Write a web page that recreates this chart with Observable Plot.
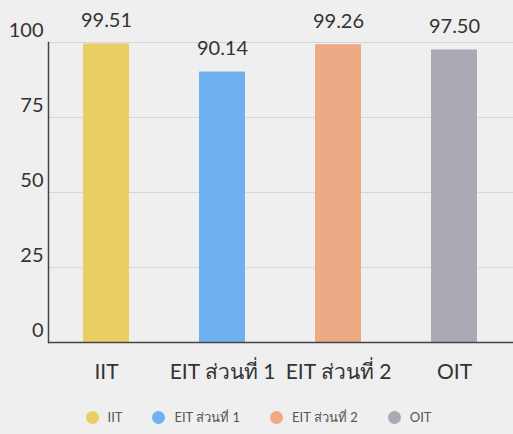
<!DOCTYPE html>
<html>
<head>
<meta charset="utf-8">
<script src="https://cdn.jsdelivr.net/npm/d3@7"></script>
<script src="https://cdn.jsdelivr.net/npm/@observablehq/plot@0.6"></script>
<style>
  html, body { margin: 0; padding: 0; background: #efefef; }
  body { width: 513px; height: 434px; overflow: hidden; font-family: Lato, "Noto Sans", sans-serif; color: #333; }
  #legend { display: flex; justify-content: center; align-items: center; height: 34px; font-size: 13px; color: #555; padding-left: 4px; }
  .item { display: flex; align-items: center; margin: 0 15px; }
  .dot { width: 13px; height: 13px; border-radius: 50%; margin-right: 9px; }
</style>
</head>
<body>
<div id="chart"></div>
<div id="legend"></div>
<script>
const categories = ["IIT", "EIT ส่วนที่ 1", "EIT ส่วนที่ 2", "OIT"];
const values = [99.51, 90.14, 99.26, 97.50];
const valueLabels = ["99.51", "90.14", "99.26", "97.50"];
const colors = ["#E9CE63", "#6FB0EE", "#EDAA84", "#A9AAB3"];
const yTicks = [0, 25, 50, 75, 100];

const data = categories.map((c, i) => ({cat: c, value: values[i], label: valueLabels[i], color: colors[i]}));

const chart = Plot.plot({
  width: 513,
  height: 400,
  marginTop: 42,
  marginBottom: 58,
  marginLeft: 48,
  marginRight: 0,
  style: {background: "transparent", fontFamily: "Lato, 'Noto Sans', sans-serif", color: "#333"},
  x: {domain: categories, paddingInner: 0.6, paddingOuter: 0.3, label: null},
  y: {domain: [0, 100], label: null},
  marks: [
    Plot.ruleY(yTicks.filter(d => d > 0), {stroke: "#d6d6d6", strokeWidth: 1}),
    Plot.barY(data, {x: "cat", y: "value", fill: "color"}),
    Plot.text(data, {x: "cat", y: "value", text: "label", dy: -23, fontSize: 20, fill: "#333"}),
    Plot.axisY(yTicks, {tickSize: 0, tickPadding: 4, dx: -1, dy: -12, fontSize: 20, fill: "#333", label: null}),
    Plot.axisX({tickSize: 0, tickPadding: 22, fontSize: 21, fill: "#333", label: null}),
    Plot.ruleY([0], {stroke: "#444", strokeWidth: 1.5}),
    Plot.frame({anchor: "left", stroke: "#444", strokeWidth: 1.5})
  ]
});
document.getElementById("chart").appendChild(chart);

const legend = d3.select("#legend");
categories.forEach((c, i) => {
  const it = legend.append("div").attr("class", "item");
  it.append("div").attr("class", "dot").style("background", colors[i]);
  it.append("span").text(c);
});
</script>
</body>
</html>
